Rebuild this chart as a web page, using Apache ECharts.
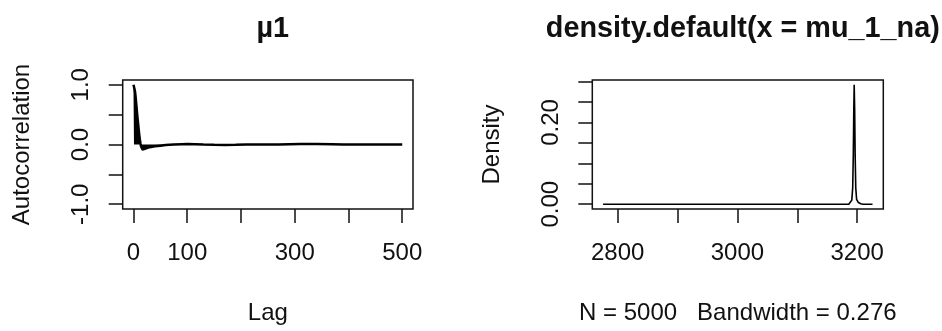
<!DOCTYPE html>
<html><head><meta charset="utf-8">
<script src="https://cdn.jsdelivr.net/npm/echarts@6/dist/echarts.min.js"></script>
<style>html,body{margin:0;padding:0;background:#fff}#c{width:942px;height:331px}</style>
</head><body><div id="c"></div><script>
// ---- data ----
const titles = ['\u00b51', 'density.default(x = mu_1_na)'];
const acfLags   = [0, 1, 2, 3, 4, 5, 6, 7, 8, 9, 10, 11, 12, 13, 14, 15, 17, 20, 25, 30, 40, 50, 60, 75, 90, 100, 115, 130, 150, 170, 190, 210, 240, 270, 290, 310, 340, 370, 390, 420, 450, 480, 500];
const acfValues = [1.0, 0.97, 0.93, 0.88, 0.8, 0.7, 0.6, 0.5, 0.41, 0.32, 0.23, 0.15, 0.08, 0.02, -0.03, -0.06, -0.085, -0.08, -0.06, -0.045, -0.03, -0.02, -0.01, 0, 0.006, 0.008, 0.006, 0, -0.006, -0.008, -0.005, 0, 0.002, 0, 0.006, 0.009, 0.008, 0.005, 0, 0, 0.002, 0, 0];
const densX = [2775.6, 3150, 3186, 3189, 3191, 3192.5, 3193.5, 3194.3, 3195, 3195.8, 3196.6, 3197.6, 3199, 3202, 3206, 3210, 3225.6];
const densY = [0, 0, 0, 0.003, 0.01, 0.04, 0.12, 0.23, 0.292, 0.23, 0.12, 0.04, 0.012, 0.004, 0.001, 0, 0];
const lagTicks = [0, 100, 200, 300, 400, 500];
const lagLabels = [0, 100, 300, 500];
const acfTicks = [-1, -0.5, 0, 0.5, 1];
const acfLabels = [-1, 0, 1];
const densXTicks = [2800, 2900, 3000, 3100, 3200];
const densXLabels = [2800, 3000, 3200];
const densYTicks = [0, 0.05, 0.1, 0.15, 0.2, 0.25, 0.3];
const densYLabels = [0, 0.2];
const xNames = ['Lag', 'N = 5000   Bandwidth = 0.276'];
const yNames = ['Autocorrelation', 'Density'];

// ---- chart ----
const FONT = "'Liberation Sans', Arial, Helvetica, sans-serif";
const INK = '#111';
const chart = echarts.init(document.getElementById('c'), null, {renderer: 'canvas'});
const grids = [
  {left: 122.7, top: 80, width: 290.3, height: 129},
  {left: 592.3, top: 80, width: 291, height: 129}
];
function xAxisCfg(gi, min, max, ticks, labels, name) {
  return {
    type: 'value', gridIndex: gi, min: min, max: max, position: 'bottom',
    axisLine: {show: false, onZero: false},
    splitLine: {show: false},
    axisTick: {show: true, inside: false, length: 14, customValues: ticks, lineStyle: {color: INK, width: 1.5}},
    axisLabel: {show: true, customValues: labels, margin: 32, color: INK, fontSize: 24, fontFamily: FONT,
      formatter: v => String(v)},
    name: name, nameLocation: 'middle', nameGap: 92,
    nameTextStyle: {color: INK, fontSize: 24, fontFamily: FONT}
  };
}
function yAxisCfg(gi, min, max, ticks, labels, digits, name) {
  return {
    type: 'value', gridIndex: gi, min: min, max: max, position: 'left',
    axisLine: {show: false, onZero: false},
    splitLine: {show: false},
    axisTick: {show: true, inside: false, length: 14, customValues: ticks, lineStyle: {color: INK, width: 1.5}},
    axisLabel: {show: true, customValues: labels, rotate: 90, margin: 29, color: INK, fontSize: 24, fontFamily: FONT,
      formatter: v => Number(v).toFixed(digits)},
    name: name, nameLocation: 'middle', nameGap: 88, nameRotate: 90,
    nameTextStyle: {color: INK, fontSize: 24, fontFamily: FONT}
  };
}
chart.setOption({
  animation: false,
  backgroundColor: '#fff',
  title: [
    {text: titles[0], left: 267.8, top: 10, textAlign: 'center',
     textStyle: {fontSize: 28.8, fontWeight: 'bold', color: INK, fontFamily: FONT}},
    {text: titles[1], left: 737.8, top: 10, textAlign: 'center',
     textStyle: {fontSize: 28.8, fontWeight: 'bold', color: INK, fontFamily: FONT}}
  ],
  grid: grids.map(g => Object.assign({show: true, borderColor: INK, borderWidth: 1.5, backgroundColor: 'transparent'}, g)),
  xAxis: [
    xAxisCfg(0, -20, 520, lagTicks, lagLabels, xNames[0]),
    xAxisCfg(1, 2757.6, 3243.6, densXTicks, densXLabels, xNames[1])
  ],
  yAxis: [
    yAxisCfg(0, -1.08, 1.08, acfTicks, acfLabels, 1, yNames[0]),
    yAxisCfg(1, -0.0117, 0.3037, densYTicks, densYLabels, 2, yNames[1])
  ],
  series: [
    {type: 'line', xAxisIndex: 0, yAxisIndex: 0, showSymbol: false, silent: true,
     data: acfLags.map((l, i) => [l, acfValues[i]]),
     lineStyle: {color: '#000', width: 2.5}, areaStyle: {color: '#000', opacity: 1, origin: 0}},
    {type: 'line', xAxisIndex: 1, yAxisIndex: 1, showSymbol: false, silent: true,
     data: densX.map((x, i) => [x, densY[i]]),
     lineStyle: {color: '#000', width: 1.6}}
  ]
});
</script></body></html>
